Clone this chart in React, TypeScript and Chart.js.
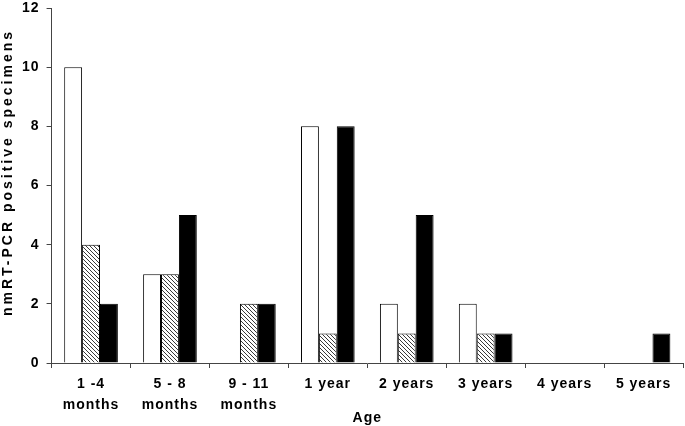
import React, { useEffect, useRef } from "react";
import { Chart, registerables } from "chart.js";

Chart.register(...registerables);

const categories: string[][] = [
  ["1 -4", "months"],
  ["5 - 8", "months"],
  ["9 - 11", "months"],
  ["1 year"],
  ["2 years"],
  ["3 years"],
  ["4 years"],
  ["5 years"],
];
const seriesWhite = [10, 3, 0, 8, 2, 2, 0, 0];
const seriesHatched = [4, 3, 2, 1, 1, 1, 0, 0];
const seriesBlack = [2, 5, 2, 8, 5, 1, 0, 1];
const yTitle = "nmRT-PCR positive specimens";
const xTitle = "Age";

const FAMILY = "Liberation Sans, Arial, sans-serif";

function makeHatch(): CanvasPattern | string {
  const c = document.createElement("canvas");
  const s = 4;
  c.width = s;
  c.height = s;
  const ctx = c.getContext("2d");
  if (!ctx) return "#999";
  ctx.fillStyle = "#ffffff";
  ctx.fillRect(0, 0, s, s);
  ctx.strokeStyle = "#3a3a3a";
  ctx.lineWidth = 1;
  ctx.beginPath();
  ctx.moveTo(-1, -1);
  ctx.lineTo(s + 1, s + 1);
  ctx.moveTo(-1, s - 1);
  ctx.lineTo(1, s + 1);
  ctx.moveTo(s - 1, -1);
  ctx.lineTo(s + 1, 1);
  ctx.stroke();
  const p = ctx.createPattern(c, "repeat");
  return p || "#999";
}

const spacingPlugin = {
  id: "letterSpacing",
  beforeUpdate(chart: any) {
    chart.ctx.letterSpacing = "1px";
  },
  beforeDraw(chart: any) {
    chart.ctx.letterSpacing = "1px";
  },
  afterDraw(chart: any) {
    const ctx = chart.ctx as CanvasRenderingContext2D;
    const area = chart.chartArea;
    ctx.save();
    (ctx as any).letterSpacing = "3px";
    ctx.font = `bold 14px ${FAMILY}`;
    ctx.fillStyle = "#000";
    ctx.textAlign = "center";
    ctx.textBaseline = "middle";
    ctx.translate(8, (area.top + area.bottom) / 2 - 13);
    ctx.rotate(-Math.PI / 2);
    ctx.fillText(yTitle, 0, 0);
    ctx.restore();
  },
};

export default function App() {
  const ref = useRef<HTMLCanvasElement | null>(null);
  useEffect(() => {
    if (!ref.current) return;
    const font = { family: FAMILY, weight: "bold" as const, size: 14 };
    const yFont = { family: FAMILY, weight: "bold" as const, size: 14, lineHeight: 0.15 };
    const xFont = { family: FAMILY, weight: "bold" as const, size: 14, lineHeight: 1.5 };
    const chart = new Chart(ref.current, {
      type: "bar",
      data: {
        labels: categories,
        datasets: [
          { data: seriesWhite, backgroundColor: "#ffffff", borderColor: "#000000", borderWidth: 1 },
          { data: seriesHatched, backgroundColor: makeHatch() as any, borderColor: "#000000", borderWidth: 1 },
          { data: seriesBlack, backgroundColor: "#000000", borderColor: "#000000", borderWidth: 1 },
        ],
      },
      plugins: [spacingPlugin],
      options: {
        animation: false,
        responsive: true,
        maintainAspectRatio: false,
        layout: { padding: { top: 0, right: 2, left: 15, bottom: 1.6 } },
        datasets: { bar: { categoryPercentage: 0.68, barPercentage: 1.0 } },
        plugins: { legend: { display: false }, tooltip: { enabled: false } },
        scales: {
          x: {
            grid: { display: true, drawOnChartArea: false, drawTicks: true, tickLength: 5, color: "#444", offset: true },
            border: { display: true, color: "#444", width: 1 },
            ticks: { color: "#000", font: xFont, padding: 5.5, maxRotation: 0, autoSkip: false },
            title: { display: true, text: xTitle, color: "#000", font, padding: { top: -11.4, bottom: -2 } },
          },
          y: {
            min: 0,
            max: 12,
            grid: { display: true, drawOnChartArea: false, drawTicks: true, tickLength: 5, color: "#444" },
            border: { display: true, color: "#444", width: 1 },
            ticks: { stepSize: 2, color: "#000", font: yFont, padding: 7 },
            title: { display: false },
          },
        },
      },
    });
    return () => chart.destroy();
  }, []);
  return (
    <div style={{ position: "fixed", left: 0, top: 0, width: 685, height: 426, background: "#fff" }}>
      <canvas ref={ref} />
    </div>
  );
}
